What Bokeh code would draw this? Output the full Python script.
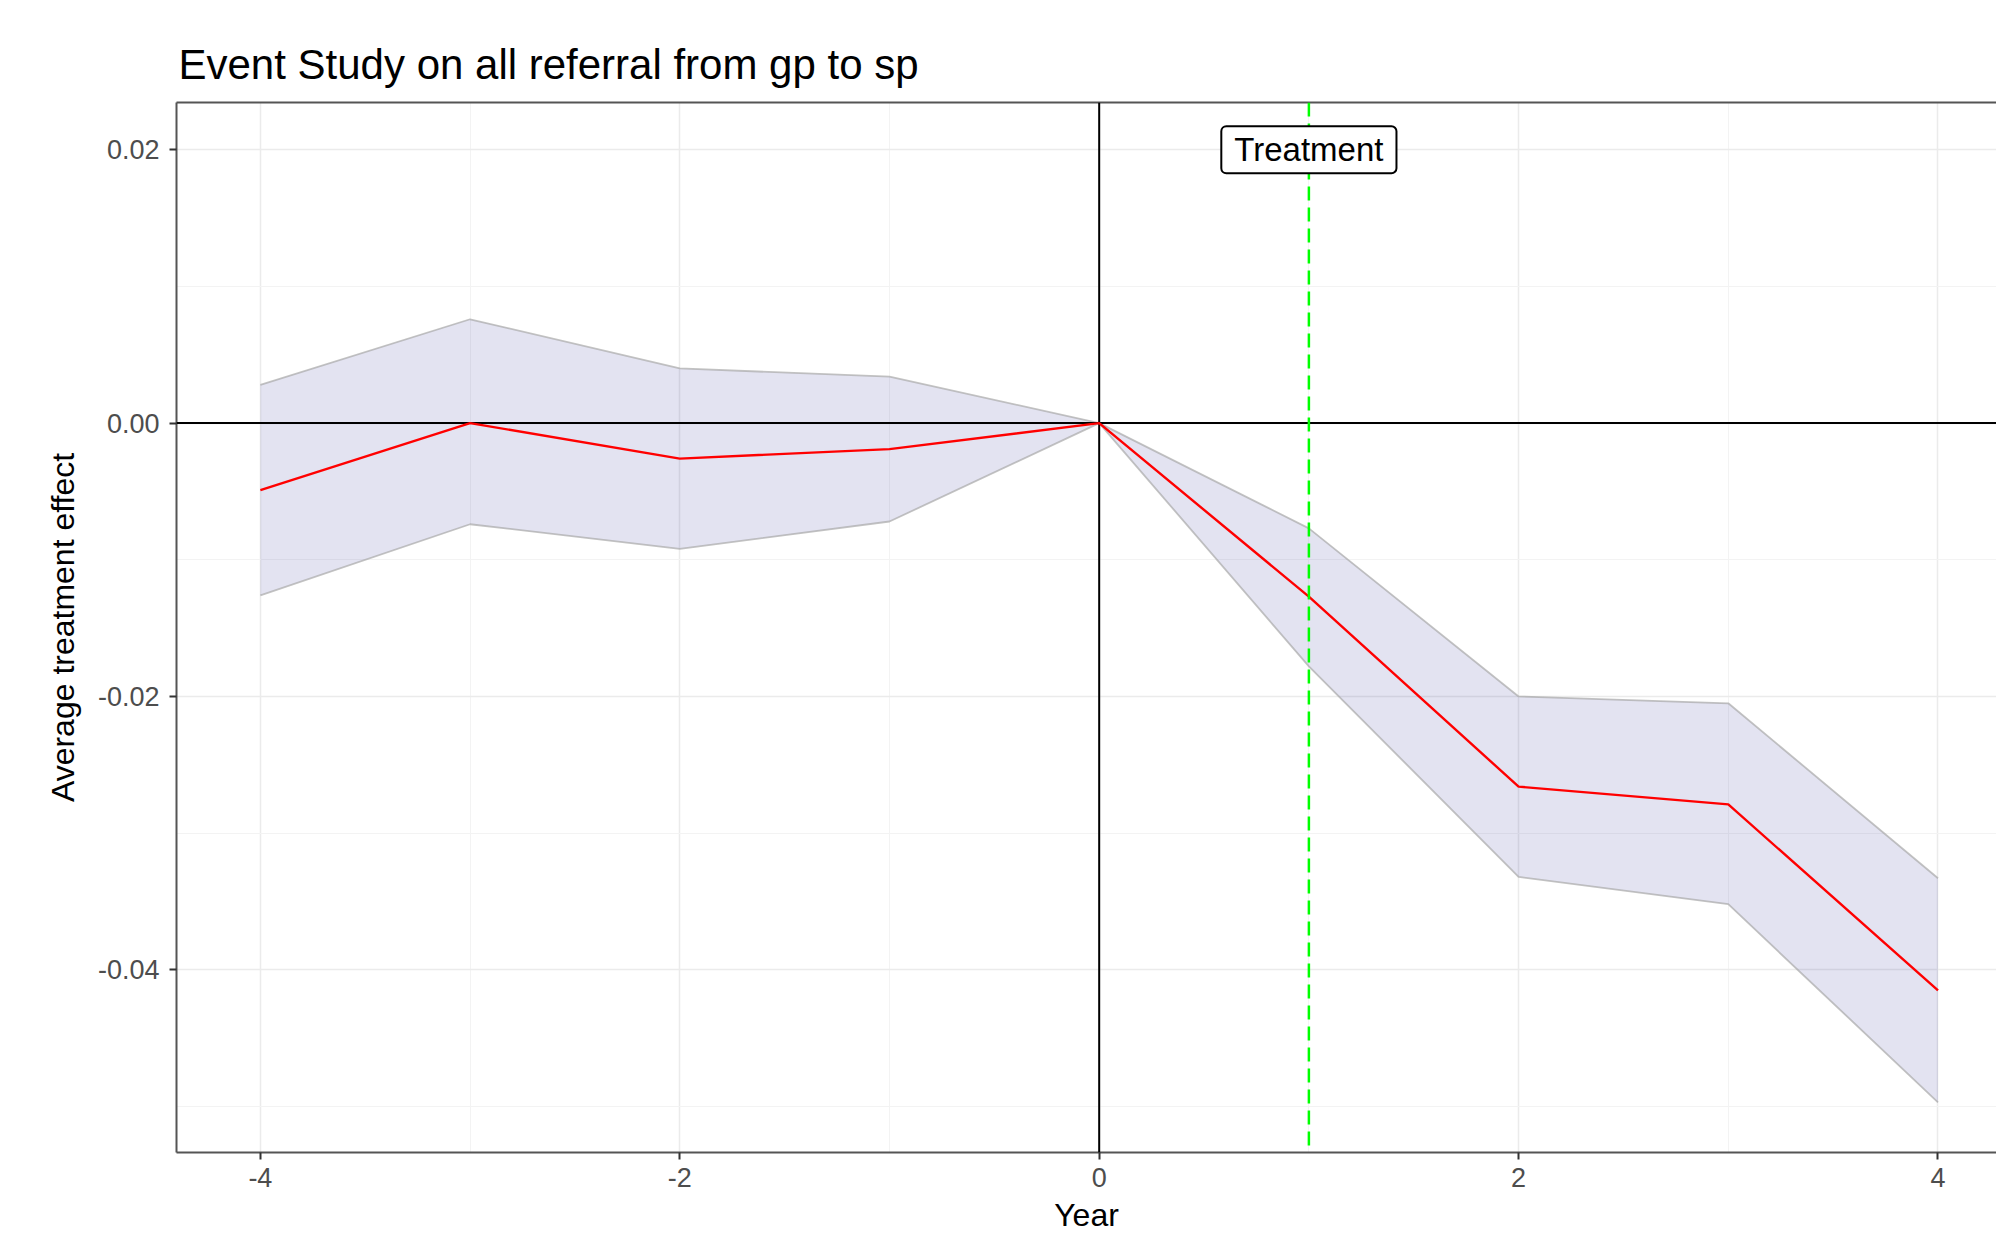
from bokeh.plotting import figure
from bokeh.models import (FixedTicker, Span, Label, LinearAxis, Range1d,
                          CustomJSTickFormatter)
from bokeh.embed import file_html
from bokeh.resources import INLINE

# ---- data ----
years = [-4, -3, -2, -1, 0, 1, 2, 3, 4]
estimate = [-0.0049, 0.0, -0.0026, -0.0019, 0.0, -0.0127, -0.0266, -0.0279, -0.0415]
ci_upper = [0.0028, 0.0076, 0.0040, 0.0034, 0.0, -0.0077, -0.0200, -0.0205, -0.0333]
ci_lower = [-0.0126, -0.0074, -0.0092, -0.0072, 0.0, -0.0178, -0.0332, -0.0352, -0.0497]

x_ticks = [-4, -2, 0, 2, 4]
x_tick_labels = ["-4", "-2", "0", "2", "4"]
x_minor = [-3, -1, 1, 3]
y_ticks = [-0.04, -0.02, 0.0, 0.02]
y_tick_labels = ["-0.04", "-0.02", "0.00", "0.02"]
y_minor = [-0.05, -0.03, -0.01, 0.01]

title_text = "Event Study on all referral from gp to sp"
x_label = "Year"
y_label = "Average treatment effect"
treatment_year = 1
treatment_text = "Treatment"
treatment_label_y = 0.02

FONT = "Liberation Sans"

p = figure(width=1996, height=1236,
           x_range=Range1d(-4.4, 4.279), y_range=Range1d(-0.05337, 0.02346),
           output_backend="svg", toolbar_location=None,
           min_border_left=176, min_border_right=0,
           min_border_top=102, min_border_bottom=84,
           title=title_text)

p.outline_line_color = None
p.background_fill_color = "white"
p.border_fill_color = "white"

p.title.text_font = FONT
p.title.text_font_size = "42px"
p.title.text_font_style = "normal"
p.title.text_color = "black"
p.title.align = "left"
p.title.offset = 2
p.title.standoff = 30

fmt_js = """
for (let i = 0; i < tv.length; i++) {
  if (Math.abs(tv[i] - tick) < 1e-9) { return tl[i]; }
}
return '';
"""

xa = p.xaxis[0]
xa.ticker = FixedTicker(ticks=x_ticks, minor_ticks=x_minor)
xa.formatter = CustomJSTickFormatter(args=dict(tv=x_ticks, tl=x_tick_labels), code=fmt_js)
ya = p.yaxis[0]
ya.ticker = FixedTicker(ticks=y_ticks, minor_ticks=y_minor)
ya.formatter = CustomJSTickFormatter(args=dict(tv=y_ticks, tl=y_tick_labels), code=fmt_js)

for ax in (xa, ya):
    ax.axis_line_color = "#555555"
    ax.axis_line_width = 2
    ax.major_tick_line_color = "#333333"
    ax.major_tick_line_width = 2
    ax.major_tick_out = 7
    ax.major_tick_in = 0
    ax.minor_tick_line_color = None
    ax.major_label_text_font = FONT
    ax.major_label_text_font_size = "27px"
    ax.major_label_text_color = "#4D4D4D"
    ax.axis_label_text_font = FONT
    ax.axis_label_text_font_size = "32px"
    ax.axis_label_text_font_style = "normal"
    ax.axis_label_text_color = "black"

xa.axis_label = x_label
ya.axis_label = y_label
xa.major_label_standoff = 8
xa.axis_label_standoff = 7
ya.major_label_standoff = 10
ya.axis_label_standoff = 14

top = LinearAxis(ticker=FixedTicker(ticks=[]), axis_line_color="#555555",
                 axis_line_width=2, major_tick_line_color=None,
                 minor_tick_line_color=None, major_label_text_font_size="0px")
p.add_layout(top, "above")

for g in (p.xgrid[0], p.ygrid[0]):
    g.grid_line_color = "#EBEBEB"
    g.grid_line_width = 1.5
    g.minor_grid_line_color = "#F3F3F3"
    g.minor_grid_line_width = 1

# ribbon
p.varea(x=years, y1=ci_lower, y2=ci_upper, fill_color="#000080", fill_alpha=0.11)
p.line(years, ci_upper, line_color="#A8A8A8", line_alpha=0.7, line_width=1.8)
p.line(years, ci_lower, line_color="#A8A8A8", line_alpha=0.7, line_width=1.8)

p.add_layout(Span(location=0, dimension="width", line_color="black", line_width=2))
p.add_layout(Span(location=0, dimension="height", line_color="black", line_width=2))

p.line(years, estimate, line_color="#FF0000", line_width=2.4, level="overlay")

p.add_layout(Span(location=treatment_year, dimension="height", line_color="#00FF00",
                  line_width=2.5, line_dash="14 7", level="overlay"))

p.add_layout(Label(x=treatment_year, y=treatment_label_y, text=treatment_text,
                   text_align="center", text_baseline="middle",
                   text_font=FONT, text_font_size="33px", text_color="black",
                   background_fill_color="white", border_line_color="black",
                   border_line_width=2, border_radius=5,
                   padding=dict(left=13, right=13, top=5, bottom=5),
                   level="overlay"))

open("out.html", "w").write(file_html(p, INLINE))
